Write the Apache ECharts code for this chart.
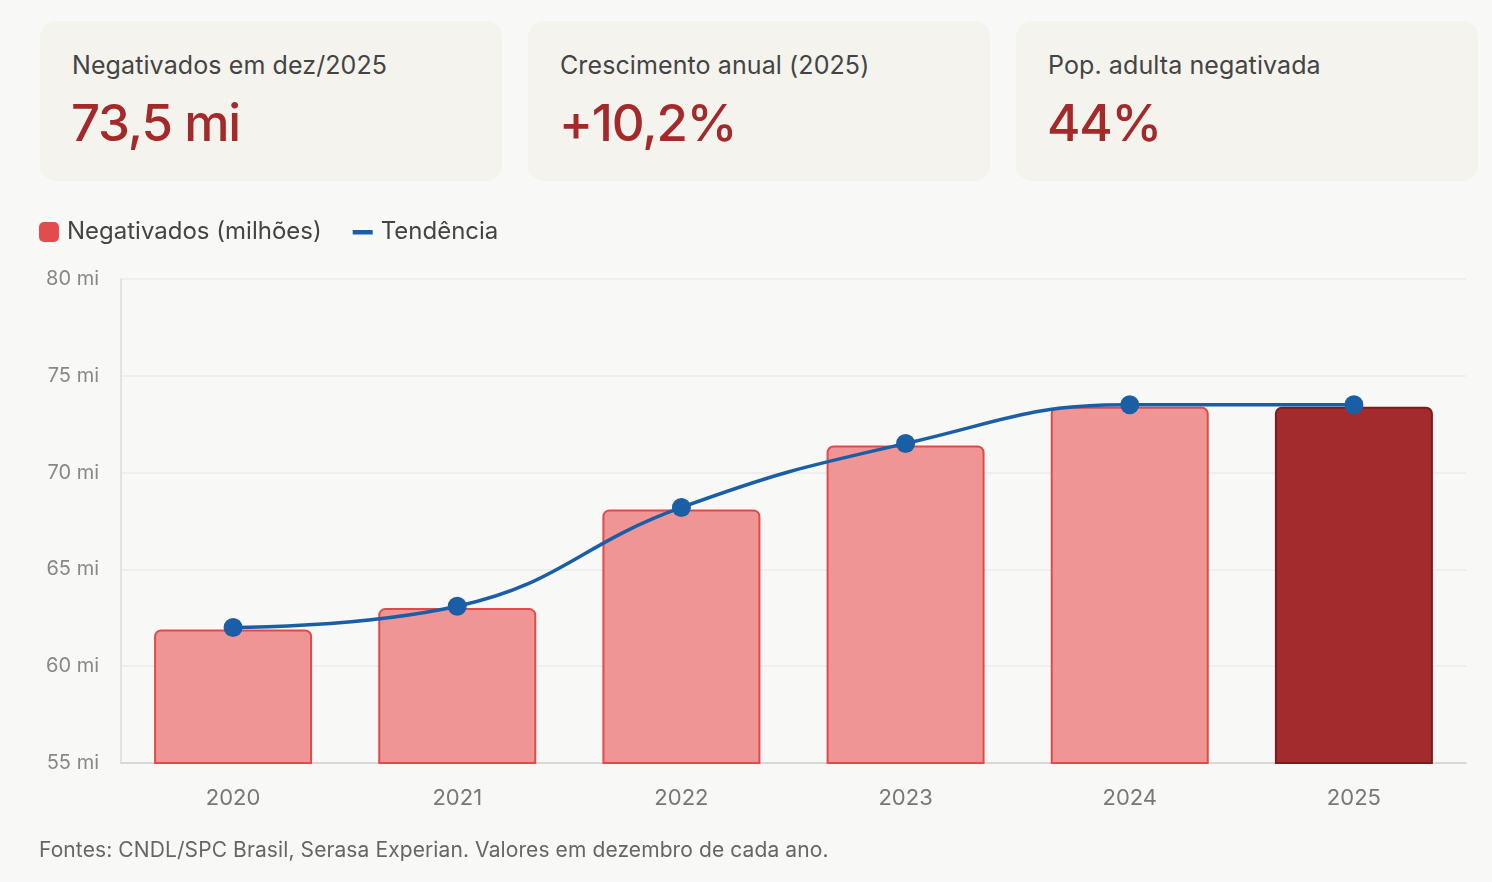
<!DOCTYPE html>
<html>
<head>
<meta charset="utf-8">
<script src="https://cdn.jsdelivr.net/npm/echarts@6/dist/echarts.min.js"></script>
<style>
  html, body { margin: 0; padding: 0; background: #f8f8f6; }
  body { width: 1492px; height: 882px; position: relative; font-family: Inter, 'Noto Sans', sans-serif; overflow: hidden; }
  .card { position: absolute; top: 21px; width: 462px; height: 160px; background: #f4f3ed; border-radius: 16px; z-index: 2; }
  .card .lbl { position: absolute; left: 32px; top: 29px; line-height: 1.2; font-size: 25px; color: #444; letter-spacing: 0.1px; }
  .card .val { position: absolute; left: 31px; top: 71px; line-height: 1.2; font-size: 51px; font-weight: 500; color: #a3292b; letter-spacing: -1.2px; }
  #chart { position: absolute; left: 0; top: 0; width: 1492px; height: 882px; z-index: 1; }
  .foot { position: absolute; left: 39px; top: 837px; line-height: 1.2; font-size: 21px; color: #666; z-index: 2; letter-spacing: 0.1px; }
</style>
</head>
<body>
<div class="card" style="left:40px"><div class="lbl">Negativados em dez/2025</div><div class="val">73,5 mi</div></div>
<div class="card" style="left:528px"><div class="lbl">Crescimento anual (2025)</div><div class="val">+10,2%</div></div>
<div class="card" style="left:1016px"><div class="lbl">Pop. adulta negativada</div><div class="val">44%</div></div>
<div id="chart"></div>
<div class="foot">Fontes: CNDL/SPC Brasil, Serasa Experian. Valores em dezembro de cada ano.</div>
<script>
const anos = ['2020', '2021', '2022', '2023', '2024', '2025']
const negativados = [61.9, 63.0, 68.1, 71.4, 73.4, 73.4]
const tendencia = [62.0, 63.1, 68.2, 71.5, 73.5, 73.5]

const chart = echarts.init(document.getElementById('chart'))

const barData = negativados.map((v, i) => {
  if (i === negativados.length - 1) {
    // destaque para o último ano
    return { value: v, itemStyle: { color: '#a32b2e', borderColor: '#7a1c1e' } }
  }
  return v
})

chart.setOption({
  backgroundColor: 'transparent',
  textStyle: { fontFamily: 'Inter, Noto Sans, sans-serif' },
  legend: {
    left: 34,
    top: 215,
    itemGap: 31,
    itemWidth: 20,
    itemHeight: 20,
    textStyle: { fontSize: 24, color: '#444', padding: [0, 0, 0, 3] },
    data: [
      { name: 'Negativados (milhões)', icon: 'roundRect', itemStyle: { color: '#e24c4c', borderWidth: 0 } },
      { name: 'Tendência', icon: 'path://M0,0L0,0M20,20L20,20M0,8h20v4.5h-20z', itemStyle: { color: '#1a5fa5', borderWidth: 0 } }
    ]
  },
  grid: { left: 121, right: 26, top: 279, height: 484 },
  xAxis: {
    type: 'category',
    data: anos,
    axisLine: { lineStyle: { color: '#cfcfcf', width: 1.5 } },
    axisTick: { show: false },
    axisLabel: { color: '#777', fontSize: 22, margin: 24 }
  },
  yAxis: {
    type: 'value',
    min: 55,
    max: 80,
    interval: 5,
    axisLine: { show: true, lineStyle: { color: '#dddddd', width: 1.5 } },
    axisTick: { show: false },
    splitLine: { lineStyle: { color: '#ebebe9', width: 1.5 } },
    axisLabel: { color: '#888', fontSize: 20, margin: 22, formatter: '{value} mi' }
  },
  series: [
    {
      name: 'Negativados (milhões)',
      type: 'bar',
      data: barData,
      barWidth: 158,
      itemStyle: {
        color: '#f09596',
        borderColor: '#e04a4a',
        borderWidth: 2,
        borderRadius: [6, 6, 0, 0]
      },
      emphasis: { disabled: true }
    },
    {
      name: 'Tendência',
      type: 'line',
      data: tendencia,
      smooth: 0.45,
      symbol: 'circle',
      symbolSize: 19,
      lineStyle: { color: '#1a5fa5', width: 3.5 },
      itemStyle: { color: '#1a5fa5' },
      z: 5
    }
  ]
})
</script>
</body>
</html>
